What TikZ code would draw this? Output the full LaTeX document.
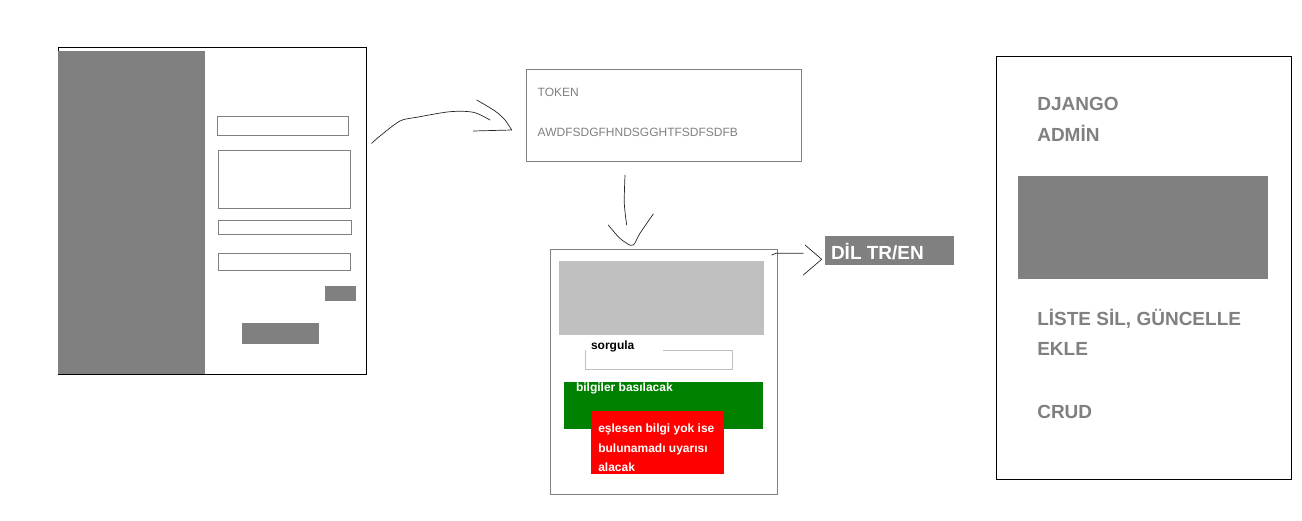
\documentclass[tikz,border=0pt]{standalone}
\usepackage{fontspec}
\setmainfont{Liberation Sans}
\definecolor{mgray}{HTML}{808080}
\definecolor{lgray}{HTML}{C0C0C0}
\definecolor{dgreen}{HTML}{008000}
\definecolor{bred}{HTML}{FF0000}
\begin{document}
\begin{tikzpicture}[x=1pt,y=-1pt,
  blk/.style={rectangle, inner sep=0pt, outer sep=0pt, anchor=north west},
  frame/.style={blk, draw=black, line width=1pt},
  gframe/.style={blk, draw=mgray, line width=1pt},
  lframe/.style={blk, draw=lgray, line width=1pt},
  gfill/.style={blk, fill=mgray},
  txt/.style={inner sep=0pt, outer sep=0pt, anchor=base west},
  small/.style={txt, font=\fontsize{12}{14}\selectfont},
  smallb/.style={txt, font=\fontsize{12}{14}\selectfont\bfseries},
  big/.style={txt, font=\fontsize{19}{21}\selectfont\bfseries},
  sketch/.style={draw=black!85, line width=0.7pt, line cap=round, line join=round}
]
\useasboundingbox (0,0) rectangle (1302,521);

% ---------- login page ----------
\node[frame, minimum width=308pt, minimum height=327pt] (login) at (58,47.3) {};
\node[gfill, minimum width=147pt, minimum height=323pt] (side) at (58,51) {};
\node[gframe, minimum width=131.7pt, minimum height=19pt] (in1) at (217,116.3) {};
\node[gframe, minimum width=132.4pt, minimum height=58pt] (in2) at (218.3,150.3) {};
\node[gframe, minimum width=133.4pt, minimum height=14pt] (in3) at (218.3,220.3) {};
\node[gframe, minimum width=132.4pt, minimum height=17pt] (in4) at (218.3,253.3) {};
\node[gfill, minimum width=31pt, minimum height=15pt] (btn1) at (325,286) {};
\node[gfill, minimum width=77pt, minimum height=20.7pt] (btn2) at (242,323) {};

% ---------- token box ----------
\node[gframe, minimum width=275.4pt, minimum height=92.4pt] (token) at (526.3,69.3) {};
\node[small, text=mgray] (tokl) at (537.7,97) {TOKEN};
\node[small, text=mgray] (tokv) at (537.7,137) {AWDFSDGFHNDSGGHTFSDFSDFB};

% ---------- query page ----------
\node[gframe, minimum width=227pt, minimum height=245pt] (query) at (550.3,249.3) {};
\node[blk, fill=lgray, minimum width=204.7pt, minimum height=73.7pt] (banner) at (559,261) {};
\node[lframe, minimum width=147.3pt, minimum height=19.7pt] (qin) at (585,350.3) {};
\fill[white] (586,348.5) rectangle (663,352);
\node[smallb, text=black] (qlab) at (591,350) {sorgula};
\node[blk, fill=dgreen, minimum width=199pt, minimum height=47pt] (green) at (564,382) {};
\node[smallb, text=white] (gtxt) at (576,391.7) {bilgiler basılacak};
\node[blk, fill=bred, minimum width=132.7pt, minimum height=62.7pt] (red) at (591,411) {};
\node[smallb, text=white] (r1) at (598.3,432.3) {eşlesen bilgi yok ise};
\node[smallb, text=white] (r2) at (598.3,452.3) {bulunamadı uyarısı};
\node[smallb, text=white] (r3) at (598.3,471.7) {alacak};

% ---------- language ----------
\node[gfill, minimum width=129pt, minimum height=29pt] (lang) at (825,236) {};
\node[big, text=white] (langt) at (831,259.5) {DİL TR/EN};

% ---------- admin ----------
\node[frame, minimum width=295.4pt, minimum height=423pt] (admin) at (996.3,56.3) {};
\node[big, text=mgray] (a1) at (1037.3,111) {DJANGO};
\node[big, text=mgray] (a2) at (1037.3,141.7) {ADMİN};
\node[gfill, minimum width=250pt, minimum height=102.7pt] (apanel) at (1018,176) {};
\node[big, text=mgray] (a3) at (1037.3,325.3) {LİSTE SİL, GÜNCELLE};
\node[big, text=mgray] (a4) at (1037.3,356) {EKLE};
\node[big, text=mgray] (a5) at (1037.3,418) {CRUD};

% ---------- sketched arrows ----------
\coordinate (s1) at (371.7,143.3);
\coordinate (e1) at (490,120);
\draw[sketch] plot[smooth, tension=0.5] coordinates {(s1) (380,136) (400,121) (416.7,117.3) (450,111.7) (473.3,112.3) (e1)};
\draw[sketch] plot[smooth, tension=0.5] coordinates {(476.7,100) (495,111) (505,120) (511.7,130)};
\draw[sketch] (511.7,130) -- (473.3,131);

\coordinate (s2) at (625,175);
\coordinate (e2) at (626.7,225);
\draw[sketch] plot[smooth, tension=0.5] coordinates {(s2) (624.3,203.3) (e2)};
\draw[sketch] plot[smooth, tension=0.6] coordinates {(608.3,225) (618.3,236.7) (626.7,243.3) (633.3,245) (640,233.3) (653.3,214)};

\coordinate (s3) at (771.7,255);
\coordinate (e3) at (803.3,253.3);
\draw[sketch] (s3) -- (776,253.3) -- (e3);
\draw[sketch] (805,245) -- (821.7,259.3) -- (803.3,275);
\end{tikzpicture}
\end{document}
